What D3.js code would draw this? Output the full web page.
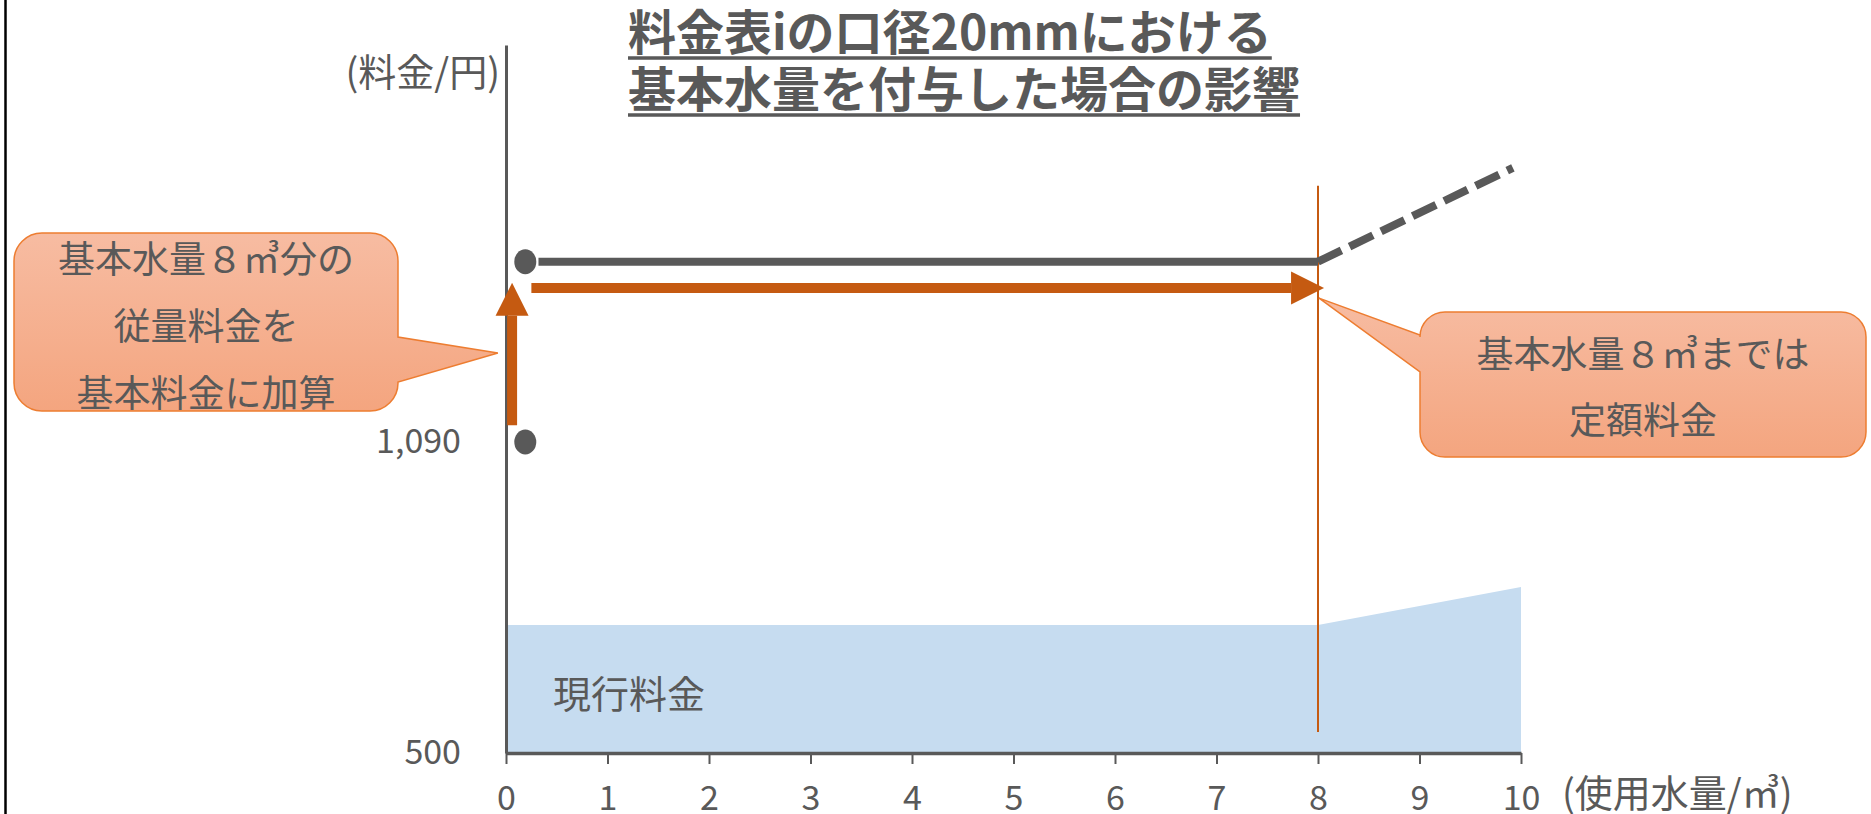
<!DOCTYPE html>
<html>
<head>
<meta charset="utf-8">
<script src="https://cdn.jsdelivr.net/npm/d3@7"></script>
<style>
  html, body { margin: 0; padding: 0; background: #fff; }
  svg { display: block; }
  text { font-family: "Noto Sans CJK JP", "Noto Sans", sans-serif; fill: #595959; }
</style>
</head>
<body>
<div id="chart"></div>
<script>
// chart values
var xTicks = [0, 1, 2, 3, 4, 5, 6, 7, 8, 9, 10];
var yTicks = [500, 1090];
var currentX = [0, 8, 10];          // 現行料金
var currentY = [743, 743, 815];
var flatX = [0.32, 8];               // 基本水量付与後 (flat part)
var flatY = [1432, 1432];
var dashX = [8, 9.92];               // beyond basic volume
var dashY = [1432, 1610];
var dotX = [0.19, 0.19];
var dotY = [1090, 1432];
var upArrow = [{x: 0.06, y: 1122}, {x: 0.06, y: 1392}];
var rightArrow = [{x: 0.25, y: 1382}, {x: 8.06, y: 1382}];
var basicX = 8;
var basicRange = [540, 1576];
var titleLines = ["料金表iの口径20mmにおける", "基本水量を付与した場合の影響"];
var leftNote = ["基本水量８㎥分の", "従量料金を", "基本料金に加算"];
var rightNote = ["基本水量８㎥までは", "定額料金"];

var W = 1871, H = 814;
var gray = "#595959", orange = "#C55A11";

var svg = d3.select("#chart").append("svg")
  .attr("width", W)
  .attr("height", H);

var defs = svg.append("defs");
var grad = defs.append("linearGradient")
  .attr("id", "noteFill")
  .attr("x1", 0).attr("y1", 0).attr("x2", 0).attr("y2", 1);
grad.append("stop").attr("offset", "0%").attr("stop-color", "#F7BCA2");
grad.append("stop").attr("offset", "100%").attr("stop-color", "#F4A57F");

var x = d3.scaleLinear().domain([0, 10]).range([506, 1521]);
var y = d3.scaleLinear().domain([500, 1090]).range([753, 442]);

// left frame line
svg.append("line")
  .attr("x1", 5.5).attr("x2", 5.5)
  .attr("y1", 0).attr("y2", H)
  .attr("stroke", "#000")
  .attr("stroke-width", 2.5);

// current tariff area
var area = d3.area()
  .x(function (d) { return x(d[0]); })
  .y0(y(500))
  .y1(function (d) { return y(d[1]); });
svg.append("path")
  .datum(d3.zip(currentX, currentY))
  .attr("d", area)
  .attr("fill", "#C6DCF0");

svg.append("text")
  .attr("x", 553)
  .attr("y", 691)
  .attr("dominant-baseline", "central")
  .attr("font-size", 38)
  .text("現行料金");

// basic volume boundary
svg.append("line")
  .attr("x1", x(basicX)).attr("x2", x(basicX))
  .attr("y1", y(basicRange[0])).attr("y2", y(basicRange[1]))
  .attr("stroke", orange)
  .attr("stroke-width", 2);

// axes
var xAxis = d3.axisBottom(x)
  .tickValues(xTicks)
  .tickSizeInner(11)
  .tickSizeOuter(0)
  .tickPadding(22)
  .tickFormat(d3.format("d"));
var gx = svg.append("g")
  .attr("transform", "translate(0," + y(500) + ")")
  .call(xAxis);
gx.select(".domain").attr("stroke", gray).attr("stroke-width", 3.5);
gx.selectAll(".tick line").attr("stroke", gray).attr("stroke-width", 2);
gx.selectAll(".tick text")
  .attr("font-size", 34)
  .attr("font-family", "'Noto Sans CJK JP', sans-serif")
  .attr("fill", gray);

var yAxisScale = y.copy().domain([500, y.invert(45)]).range([753, 45]);
var yAxis = d3.axisLeft(yAxisScale)
  .tickValues(yTicks)
  .tickSizeInner(0)
  .tickSizeOuter(0)
  .tickPadding(45)
  .tickFormat(d3.format(","));
var gy = svg.append("g")
  .attr("transform", "translate(" + x(0) + ",0)")
  .call(yAxis);
gy.select(".domain").attr("stroke", gray).attr("stroke-width", 3);
gy.selectAll(".tick text")
  .attr("font-size", 34)
  .attr("font-family", "'Noto Sans CJK JP', sans-serif")
  .attr("fill", gray);

svg.append("text")
  .attr("x", 500)
  .attr("y", 69)
  .attr("text-anchor", "end")
  .attr("dominant-baseline", "central")
  .attr("font-size", 38)
  .text("(料金/円)");

svg.append("text")
  .attr("x", 1562)
  .attr("y", 790)
  .attr("dominant-baseline", "central")
  .attr("font-size", 38)
  .text("(使用水量/㎥)");

// new tariff line
var line = d3.line()
  .x(function (d) { return x(d[0]); })
  .y(function (d) { return y(d[1]); });
svg.append("path")
  .datum(d3.zip(flatX, flatY))
  .attr("d", line)
  .attr("fill", "none")
  .attr("stroke", gray)
  .attr("stroke-width", 8);
svg.append("path")
  .datum(d3.zip(dashX, dashY))
  .attr("d", line)
  .attr("fill", "none")
  .attr("stroke", gray)
  .attr("stroke-width", 8)
  .attr("stroke-dasharray", "26,9");

svg.selectAll(".dot")
  .data(d3.zip(dotX, dotY))
  .enter()
  .append("ellipse")
  .attr("class", "dot")
  .attr("cx", function (d) { return x(d[0]); })
  .attr("cy", function (d) { return y(d[1]); })
  .attr("rx", 11)
  .attr("ry", 12.5)
  .attr("fill", gray);

// arrows
function arrow(a, b) {
  var x1 = x(a.x), y1 = y(a.y), x2 = x(b.x), y2 = y(b.y);
  var len = Math.hypot(x2 - x1, y2 - y1);
  var ux = (x2 - x1) / len, uy = (y2 - y1) / len;
  var head = 33, half = 16.5;
  var bx = x2 - ux * head, by = y2 - uy * head;
  svg.append("line")
    .attr("x1", x1).attr("y1", y1)
    .attr("x2", bx).attr("y2", by)
    .attr("stroke", orange)
    .attr("stroke-width", 10);
  svg.append("polygon")
    .attr("points", [
      [x2, y2],
      [bx - uy * half, by + ux * half],
      [bx + uy * half, by - ux * half]
    ].join(" "))
    .attr("fill", orange);
}
arrow(upArrow[0], upArrow[1]);
arrow(rightArrow[0], rightArrow[1]);

// callouts
function callout(bx, by, bw, bh, r, side, p1, p2, tip) {
  var p = d3.path();
  p.moveTo(bx + r, by);
  p.lineTo(bx + bw - r, by);
  p.arcTo(bx + bw, by, bx + bw, by + r, r);
  if (side === "right") {
    p.lineTo(bx + bw, p1);
    p.lineTo(tip[0], tip[1]);
    p.lineTo(bx + bw, p2);
  }
  p.lineTo(bx + bw, by + bh - r);
  p.arcTo(bx + bw, by + bh, bx + bw - r, by + bh, r);
  p.lineTo(bx + r, by + bh);
  p.arcTo(bx, by + bh, bx, by + bh - r, r);
  if (side === "left") {
    p.lineTo(bx, p2);
    p.lineTo(tip[0], tip[1]);
    p.lineTo(bx, p1);
  }
  p.lineTo(bx, by + r);
  p.arcTo(bx, by, bx + r, by, r);
  p.closePath();
  svg.append("path")
    .attr("d", p.toString())
    .attr("fill", "url(#noteFill)")
    .attr("stroke", "#ED7D31")
    .attr("stroke-width", 1.5);
}

callout(14, 233, 384, 178, 28, "right", 337, 382, [x(-0.08), y(1259)]);
svg.selectAll(".lnote")
  .data(leftNote)
  .enter()
  .append("text")
  .attr("class", "lnote")
  .attr("x", 206)
  .attr("y", function (d, i) { return [257, 324, 391][i]; })
  .attr("text-anchor", "middle")
  .attr("dominant-baseline", "central")
  .attr("font-size", 37)
  .text(function (d) { return d; });

callout(1420, 312, 446, 145, 25, "left", 335, 372, [x(8.01), y(1363)]);
svg.selectAll(".rnote")
  .data(rightNote)
  .enter()
  .append("text")
  .attr("class", "rnote")
  .attr("x", 1643)
  .attr("y", function (d, i) { return [352, 418][i]; })
  .attr("text-anchor", "middle")
  .attr("dominant-baseline", "central")
  .attr("font-size", 37)
  .text(function (d) { return d; });

// title
var tl = svg.selectAll(".title")
  .data(titleLines)
  .enter()
  .append("text")
  .attr("class", "title")
  .attr("x", 628)
  .attr("y", function (d, i) { return [50, 107][i]; })
  .attr("font-size", 48)
  .attr("font-weight", "bold")
  .text(function (d) { return d; });
tl.each(function (d, i) {
  var w = this.getComputedTextLength();
  svg.append("line")
    .attr("x1", 628).attr("x2", 628 + w)
    .attr("y1", [58, 115][i]).attr("y2", [58, 115][i])
    .attr("stroke", gray)
    .attr("stroke-width", 3.5);
});
</script>
</body>
</html>
